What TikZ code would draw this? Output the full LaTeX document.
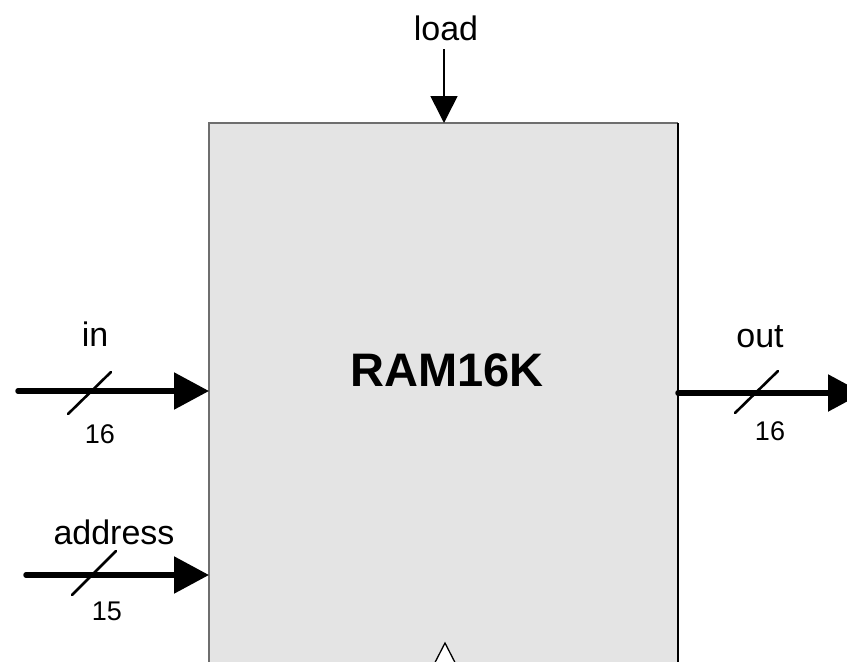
\documentclass[tikz,border=0pt]{standalone}
\usepackage{fontspec}
\setmainfont{Liberation Sans}
\usetikzlibrary{arrows.meta}
\definecolor{boxfill}{HTML}{E4E4E4}
\definecolor{edgegray}{HTML}{6E6E6E}
\tikzset{
  lbl/.style={inner sep=0pt, anchor=base, font=\fontsize{34pt}{40pt}\selectfont},
  num/.style={inner sep=0pt, anchor=base, font=\fontsize{27pt}{32pt}\selectfont},
  title/.style={inner sep=0pt, font=\fontsize{47pt}{56pt}\selectfont\bfseries},
  bus/.style={line width=5.5pt, line cap=round, -{Triangle[length=35pt,width=36pt]}},
  slash/.style={line width=2.6pt, line cap=round},
  ctl/.style={line width=1.6pt, -{Triangle[length=27pt,width=27pt]}},
  rambox/.style={fill=boxfill, draw=none, inner sep=0pt, anchor=north west},
}
\begin{document}
\begin{tikzpicture}[x=1pt,y=-1pt]
\clip (0,0) rectangle (847,662);
\fill[white] (0,0) rectangle (847,662);
% box
\node[rambox, minimum width=469pt, minimum height=600pt] (ram) at (209,123) {};
\draw[edgegray, line width=2pt] (ram.south west) -- (ram.north west) -- (ram.north east);
\draw[black, line width=2pt] (ram.north east) -- (ram.south east);
\node[title] (t) at (447,370) {RAM16K};
% clock triangle
\draw[fill=white, line width=1.3pt] (445,643) coordinate (clk) -- (426,680) -- (464,680) -- cycle;
% load
\node[lbl] (load) at (446,40) {load};
\coordinate (loadS) at (444,49);
\draw[ctl] (loadS) -- (loadS |- ram.north);
% in
\coordinate (inS) at (18,391);
\draw[bus] (inS) -- (inS -| ram.west);
\coordinate (inA) at (68,414); \coordinate (inB) at (111,372);
\draw[slash] (inA) -- (inB);
\node[lbl] (inL) at (95,346) {in};
\node[num] (in16) at (100,443) {16};
% address
\coordinate (adS) at (26,575);
\draw[bus] (adS) -- (adS -| ram.west);
\coordinate (adA) at (72,595); \coordinate (adB) at (116,551);
\draw[slash] (adA) -- (adB);
\node[lbl] (adL) at (114,544) {address};
\node[num] (ad15) at (107,620) {15};
% out
\coordinate (outS) at (678,393);
\coordinate (outE) at (863,393);
\draw[bus] (outS) -- (outE);
\coordinate (ouA) at (735,413); \coordinate (ouB) at (778,371);
\draw[slash] (ouA) -- (ouB);
\node[lbl] (outL) at (760,347) {out};
\node[num] (out16) at (770,440) {16};
\end{tikzpicture}
\end{document}
